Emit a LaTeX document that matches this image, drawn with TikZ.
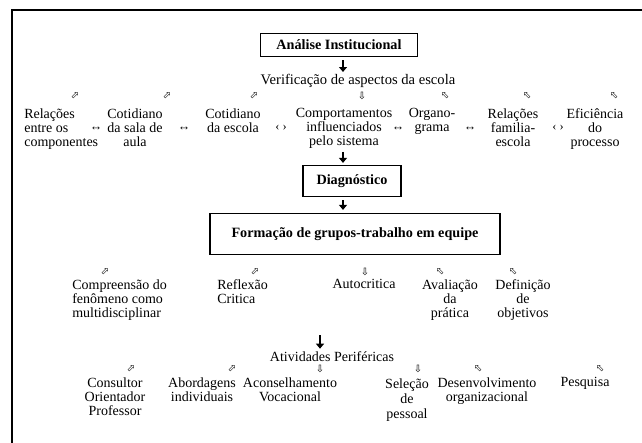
\documentclass[tikz,border=0pt]{standalone}
\usepackage{fontspec}
\setmainfont{Liberation Serif}
\newfontfamily\symfont{DejaVu Sans}
\usetikzlibrary{arrows.meta}

\begin{document}
\begin{tikzpicture}[x=1pt,y=-1pt,>={Triangle[width=8pt,length=5pt]},semithick]
\tikzstyle{box}=[draw,line width=1.2pt,inner sep=0pt,font=\fontsize{14.2}{16}\selectfont\bfseries]
\tikzstyle{item}=[anchor=north,align=center,inner sep=0pt,font=\fontsize{14}{14}\selectfont]
\tikzstyle{pointer}=[inner sep=0pt,font=\symfont\fontsize{10}{10}\selectfont]
\tikzstyle{link}=[anchor=base,inner sep=0pt,font=\fontsize{12.5}{12}\selectfont]
\tikzstyle{flow}=[->,line width=2.2pt]
\useasboundingbox (0,0) rectangle (642,443);
\draw[line width=1.3pt] (12,443) -- (12,10) -- (642,10);

\node[box,minimum width=157pt,minimum height=23pt] (analise) at (339,45) {Análise Institucional};
\node[inner sep=0pt,font=\fontsize{14.6}{16}\selectfont] (verif) at (358,81) {Verificação de aspectos da escola};
\coordinate (axis) at (343,0);

% primeira linha
\node[pointer] (p1) at (75,96) {⬀};
\node[pointer] (p2) at (167,96) {⬀};
\node[pointer] (p3) at (254,96) {⬀};
\node[pointer] (p4) at (362,96) {⇩};
\node[pointer] (p5) at (445,96) {⬁};
\node[pointer] (p6) at (527,96) {⬁};
\node[pointer] (p7) at (614,96) {⬁};
\node[item,anchor=north west,align=left] (componentes) at (24,108) {Relações\\entre os\\componentes};
\node[item] (salaaula) at (135,108) {Cotidiano\\da sala de\\aula};
\node[item] (escola) at (233,108) {Cotidiano\\da escola};
\node[item] (comport) at (344,108) {Comportamentos\\influenciados\\pelo sistema};
\node[item] (organo) at (432,108) {Organo-\\grama};
\node[item] (familia) at (513,108) {Relações\\familia-\\escola};
\node[item] (eficiencia) at (595,108) {Eficiência\\do\\processo};
\node[link] (l1) at (96,131) {↔};
\node[link] (l2) at (184,131) {↔};
\node[link] (l3) at (281,131) {‹ ›};
\node[link] (l4) at (398,131) {↔};
\node[link] (l5) at (470,131) {↔};
\node[link] (l6) at (558,131) {‹ ›};

\node[box,minimum width=98pt,minimum height=31pt] (diag) at (352,181) {Diagnóstico};
\node[box,minimum width=290pt,minimum height=41pt] (grupos) at (355,234) {Formação de grupos-trabalho em equipe};

% segunda linha
\node[pointer] (q1) at (105,272) {⬀};
\node[pointer] (q2) at (255,272) {⬀};
\node[pointer] (q3) at (365,272) {⇩};
\node[pointer] (q4) at (440,272) {⬁};
\node[pointer] (q5) at (513,272) {⬁};
\node[item,anchor=north west,align=left] (compreensao) at (72,279) {Compreensão do\\fenômeno como\\multidisciplinar};
\node[item,anchor=north west,align=left] (reflexao) at (217,279) {Reflexão\\Critica};
\node[item] (autocritica) at (364,279) {Autocritica};
\node[item] (avaliacao) at (450,279) {Avaliação\\da\\prática};
\node[item] (definicao) at (523,279) {Definição\\de\\objetivos};

\node[inner sep=0pt,font=\fontsize{14}{14}\selectfont] (ativ) at (332,357) {Atividades Periféricas};
\coordinate (ativtop) at (320,335);

% terceira linha
\node[pointer] (r1) at (131,369) {⬀};
\node[pointer] (r2) at (232,369) {⬀};
\node[pointer] (r3) at (320,369) {⇩};
\node[pointer] (r4) at (418,369) {⇩};
\node[pointer] (r5) at (478,369) {⬁};
\node[pointer] (r6) at (600,369) {⬁};
\node[item] (consultor) at (115,377) {Consultor\\Orientador\\Professor};
\node[item] (abordagens) at (202,377) {Abordagens\\individuais};
\node[item] (aconselhamento) at (290,377) {Aconselhamento\\Vocacional};
\node[item,font=\fontsize{14}{15}\selectfont] (selecao) at (407,378) {Seleção\\de\\pessoal};
\node[item] (desenvolvimento) at (487,377) {Desenvolvimento\\organizacional};
\node[item] (pesquisa) at (585,377) {Pesquisa};

\draw[flow,shorten <=3pt,shorten >=2pt] (analise.south -| axis) -- (verif.north -| axis);
\draw[flow,shorten <=3pt,shorten >=2pt] (comport.south -| axis) -- (diag.north -| axis);
\draw[flow,shorten <=3pt,shorten >=3pt] (diag.south -| axis) -- (grupos.north -| axis);
\draw[flow,shorten >=3pt] (ativtop) -- (ativ.north -| ativtop);
\end{tikzpicture}
\end{document}
